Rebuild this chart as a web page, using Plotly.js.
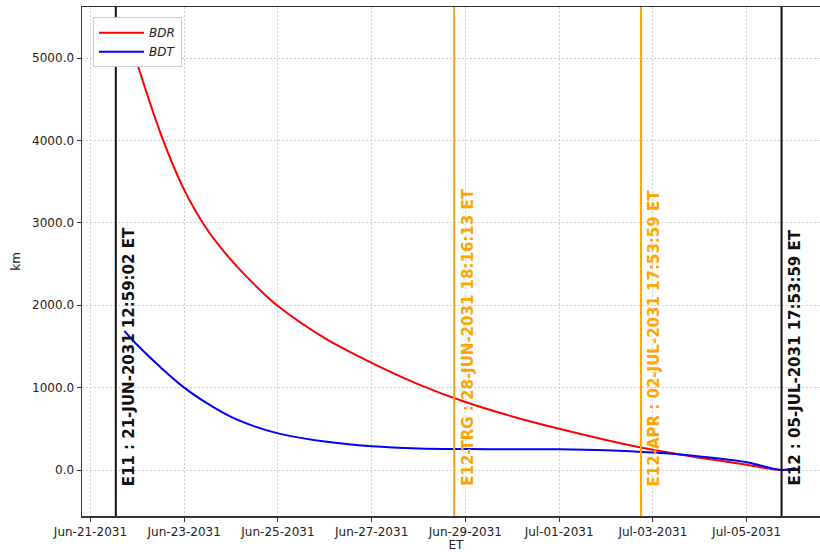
<!DOCTYPE html>
<html>
<head>
<meta charset="utf-8">
<script src="https://cdn.plot.ly/plotly-3.0.1.min.js"></script>
<style>
html, body { margin: 0; padding: 0; overflow: hidden; background: #fff; }
#chart { width: 840px; height: 552px; }
</style>
</head>
<body>
<div id="chart"></div>
<script>
// Data
const bdrTimes = [
  '2031-06-21 17:20', '2031-06-22 00:00', '2031-06-22 12:00', '2031-06-23 00:00',
  '2031-06-23 12:00', '2031-06-24 00:00', '2031-06-24 12:00', '2031-06-25 00:00',
  '2031-06-26 00:00', '2031-06-27 00:00', '2031-06-28 00:00', '2031-06-29 00:00',
  '2031-06-30 00:00', '2031-07-01 00:00', '2031-07-02 00:00', '2031-07-03 00:00',
  '2031-07-04 00:00', '2031-07-05 00:00', '2031-07-05 17:53:59', '2031-07-06 01:00'
];
const bdrValues = [
  5450, 4930, 4080, 3400,
  2910, 2550, 2250, 1990,
  1600, 1300, 1040, 825,
  650, 500, 365, 245,
  150, 65, 0, 20
];
const bdtTimes = [
  '2031-06-21 17:20', '2031-06-22 00:00', '2031-06-22 12:00', '2031-06-23 00:00',
  '2031-06-23 12:00', '2031-06-24 00:00', '2031-06-24 12:00', '2031-06-25 00:00',
  '2031-06-26 00:00', '2031-06-27 00:00', '2031-06-28 00:00', '2031-06-29 00:00',
  '2031-06-30 00:00', '2031-07-01 00:00', '2031-07-02 00:00', '2031-07-03 00:00',
  '2031-07-04 00:00', '2031-07-05 00:00', '2031-07-05 17:53:59', '2031-07-06 01:00'
];
const bdtValues = [
  1690, 1517, 1245, 1000,
  805, 645, 530, 445,
  345, 288, 262, 255,
  253, 252, 240, 212,
  165, 95, 0, 25
];
const eventTimes = ['2031-06-21 12:59:02', '2031-06-28 18:16:13', '2031-07-02 17:53:59', '2031-07-05 17:53:59'];
const eventLabels = [
  'E11 : 21-JUN-2031 12:59:02 ET',
  'E12-TRG : 28-JUN-2031 18:16:13 ET',
  'E12-APR : 02-JUL-2031 17:53:59 ET',
  'E12 : 05-JUL-2031 17:53:59 ET'
];
const eventColors = ['#111111', '#FFA500', '#FFA500', '#111111'];
const yTickValues = [0, 1000, 2000, 3000, 4000, 5000];
const yTickLabels = ['0.0', '1000.0', '2000.0', '3000.0', '4000.0', '5000.0'];
const xTickValues = ['2031-06-21', '2031-06-23', '2031-06-25', '2031-06-27', '2031-06-29', '2031-07-01', '2031-07-03', '2031-07-05'];
const xTickLabels = ['Jun-21-2031', 'Jun-23-2031', 'Jun-25-2031', 'Jun-27-2031', 'Jun-29-2031', 'Jul-01-2031', 'Jul-03-2031', 'Jul-05-2031'];

const FONT = 'DejaVu Sans, sans-serif';

const traces = [
  { x: bdrTimes, y: bdrValues, name: '<i>BDR</i>', mode: 'lines', type: 'scatter',
    line: { color: '#FF0000', width: 2, shape: 'spline', smoothing: 1 } },
  { x: bdtTimes, y: bdtValues, name: '<i>BDT</i>', mode: 'lines', type: 'scatter',
    line: { color: '#0000FF', width: 2, shape: 'spline', smoothing: 1 } }
];

const shapes = eventTimes.map((t, i) => ({
  type: 'line', xref: 'x', yref: 'paper', x0: t, x1: t, y0: 0, y1: 1,
  line: { color: eventColors[i], width: 2 }, layer: 'above'
}));

const annotations = eventTimes.map((t, i) => ({
  xref: 'x', yref: 'paper', x: t, y: 0.055,
  xanchor: 'left', yanchor: 'bottom', textangle: -90, showarrow: false,
  xshift: 2,
  text: eventLabels[i],
  font: { family: FONT, size: 15, color: eventColors[i], weight: 'bold' }
}));

const layout = {
  width: 840, height: 552,
  margin: { l: 82, r: 10, t: 7, b: 36 },
  paper_bgcolor: '#ffffff', plot_bgcolor: '#ffffff',
  font: { family: FONT, size: 12, color: '#222' },
  showlegend: true,
  legend: {
    x: 0.0147, y: 0.98, xanchor: 'left', yanchor: 'top',
    bgcolor: '#ffffff', bordercolor: '#cccccc', borderwidth: 1,
    font: { family: FONT, size: 12, color: '#222' },
    itemwidth: 45,
    tracegroupgap: 0
  },
  xaxis: {
    type: 'date',
    range: ['2031-06-20 19:40', '2031-07-06 18:43'],
    tickmode: 'array', tickvals: xTickValues, ticktext: xTickLabels,
    ticks: 'outside', ticklen: 4, tickcolor: '#333',
    showline: true, linecolor: '#333', linewidth: 1.5, mirror: true,
    showgrid: true, gridcolor: '#cfcfcf', griddash: '2px,2px', gridwidth: 1,
    zeroline: false,
    title: { text: 'ET', font: { family: FONT, size: 12, color: '#222' }, standoff: 4 },
    tickfont: { family: FONT, size: 12, color: '#222' }
  },
  yaxis: {
    range: [-558, 5620],
    tickmode: 'array', tickvals: yTickValues, ticktext: yTickLabels,
    ticks: 'outside', ticklen: 4, tickcolor: '#333',
    showline: true, linecolor: '#333', linewidth: 1.5, mirror: true,
    showgrid: true, gridcolor: '#cfcfcf', griddash: '2px,2px', gridwidth: 1,
    zeroline: false,
    title: { text: 'km', font: { family: FONT, size: 12, color: '#222' }, standoff: 9 },
    tickfont: { family: FONT, size: 12, color: '#222' }
  },
  shapes: shapes,
  annotations: annotations
};

Plotly.newPlot('chart', traces, layout, { displayModeBar: false, staticPlot: true });
</script>
</body>
</html>
